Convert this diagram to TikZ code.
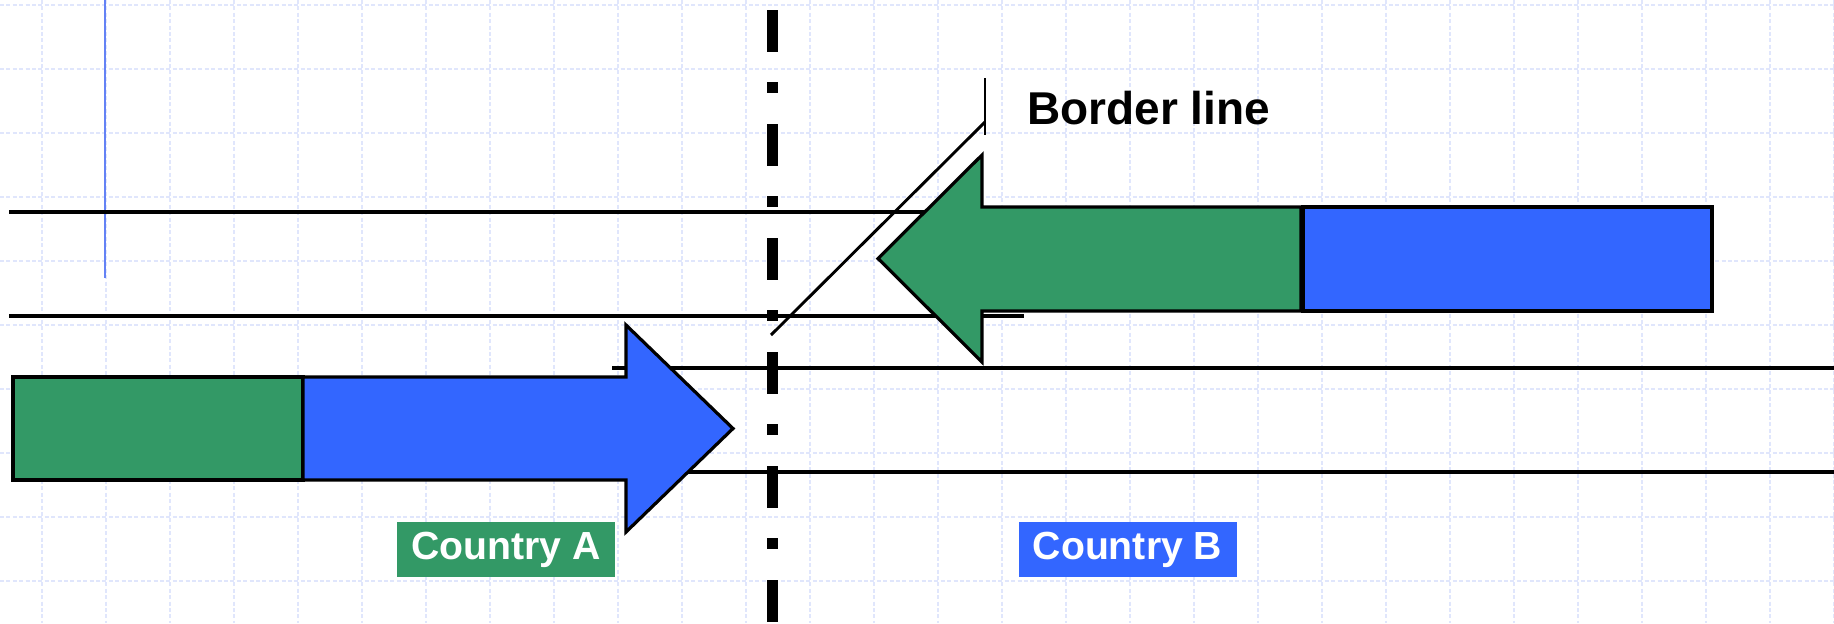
\documentclass[tikz,border=0pt]{standalone}
\usepackage{fontspec}
\setmainfont{Liberation Sans}
\definecolor{cgreen}{RGB}{51,153,102}
\definecolor{cblue}{RGB}{51,102,255}
\definecolor{gridblue}{RGB}{224,230,252}
\definecolor{thinblue}{RGB}{100,130,245}
\begin{document}
\begin{tikzpicture}[x=0.5pt,y=-0.5pt,
  gridline/.style={gridblue,line width=0.8pt,dash pattern=on 2pt off 1.2pt},
  rail/.style={black,line width=1.65pt},
  shapeout/.style={draw=black,line width=1.6pt,line join=miter},
  borderdash/.style={black,line width=5.5pt,dash pattern=on 21pt off 15pt on 5.5pt off 15.5pt},
  leader/.style={black,line width=1.45pt},
  countrybox/.style={text=white,font=\bfseries\fontsize{19.6}{19.6}\selectfont,minimum width=109pt,minimum height=27.5pt,inner sep=0pt},
  caption/.style={font=\bfseries\fontsize{23}{23}\selectfont,inner sep=0pt,anchor=base west}]
\useasboundingbox (0,0) rectangle (1834,623);
\fill[white] (0,0) rectangle (1834,623);
% grid
\foreach \k in {0,...,28} \draw[gridline] ({42+64*\k},0) -- ({42+64*\k},623);
\foreach \k in {0,...,9} \draw[gridline] (0,{5+64*\k}) -- (1834,{5+64*\k});
% thin blue vertical line
\draw[thinblue,line width=1.1pt] (105,0) -- (105,278);
% rails
\coordinate (r1a) at (9,212);   \coordinate (r1b) at (1000,212);
\coordinate (r2a) at (9,316);   \coordinate (r2b) at (1024,316);
\coordinate (r3a) at (612,368); \coordinate (r3b) at (1834,368);
\coordinate (r4a) at (640,472); \coordinate (r4b) at (1834,472);
\draw[rail] (r1a) -- (r1b);
\draw[rail] (r2a) -- (r2b);
\draw[rail] (r3a) -- (r3b);
\draw[rail] (r4a) -- (r4b);
% lower train (to the right)
\filldraw[fill=cgreen,shapeout] (13,377) rectangle (303,480);
\filldraw[fill=cblue,shapeout] (303,377) -- (626,377) -- (626,325) -- (733,428.5) -- (626,532) -- (626,480) -- (303,480) -- cycle;
% upper train (to the left)
\filldraw[fill=cgreen,shapeout] (1301,207) -- (982,207) -- (982,155) -- (878,258.5) -- (982,362) -- (982,311) -- (1301,311) -- cycle;
\filldraw[fill=cblue,shapeout] (1303,207) rectangle (1712,311);
% border
\coordinate (btop) at (772,10);
\coordinate (bbot) at (772,623);
\draw[borderdash] (btop) -- (bbot);
% leader to caption
\coordinate (lfoot) at (771,335);
\coordinate (lknee) at (985,122);
\coordinate (ttop) at (985,78);
\coordinate (tbot) at (985,135);
\draw[leader] (lfoot) -- (lknee);
\draw[leader] (ttop) -- (tbot);
\node[caption] (border) at (1027,124) {Border line};
% labels
\node[countrybox,fill=cgreen] (ca) at (506,549.5) {Country A};
\node[countrybox,fill=cblue] (cb) at (1127.5,549.5) {Country B};
\end{tikzpicture}
\end{document}
